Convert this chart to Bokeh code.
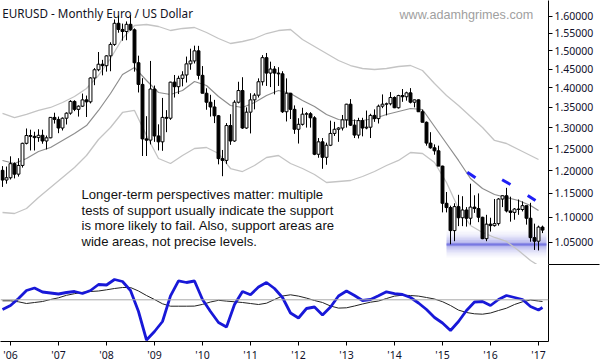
import numpy as np
from bokeh.plotting import figure
from bokeh.layouts import column
from bokeh.models import (ColumnDataSource, FixedTicker, PrintfTickFormatter,
                          LinearAxis, Label, Range1d, Span)
from bokeh.embed import file_html
from bokeh.resources import INLINE

# ---------------- data ----------------
# month index: 0 = Jan 2006 ; -2 = Nov 2005 ; 133 = Feb 2017
months = list(range(-2, 134))

opens = [
    1.2005, 1.1790,
    1.1840, 1.2155, 1.1920, 1.2115, 1.2625, 1.2810, 1.2790, 1.2760, 1.2815, 1.2680, 1.2755, 1.3250,
    1.3200, 1.2990, 1.3230, 1.3355, 1.3650, 1.3450, 1.3530, 1.3690, 1.3640, 1.4260, 1.4480, 1.4630,
    1.4590, 1.4860, 1.5180, 1.5790, 1.5610, 1.5550, 1.5760, 1.5600, 1.4670, 1.4090, 1.2730, 1.2700,
    1.3970, 1.2800, 1.2660, 1.3250, 1.3230, 1.4150, 1.4030, 1.4250, 1.4340, 1.4640, 1.4720, 1.5000,
    1.4330, 1.3860, 1.3630, 1.3510, 1.3290, 1.2270, 1.2230, 1.3050, 1.2680, 1.3630, 1.3930, 1.2990,
    1.3380, 1.3690, 1.3810, 1.4160, 1.4810, 1.4390, 1.4500, 1.4390, 1.4370, 1.3390, 1.3860, 1.3450,
    1.2960, 1.3080, 1.3330, 1.3340, 1.3240, 1.2370, 1.2660, 1.2300, 1.2580, 1.2860, 1.2960, 1.2990,
    1.3190, 1.3580, 1.3060, 1.2820, 1.3170, 1.2990, 1.3010, 1.3300, 1.3220, 1.3530, 1.3580, 1.3590,
    1.3750, 1.3490, 1.3800, 1.3770, 1.3870, 1.3630, 1.3690, 1.3390, 1.3130, 1.2630, 1.2520, 1.2450,
    1.2100, 1.1290, 1.1200, 1.0730, 1.1220, 1.0990, 1.1150, 1.0980, 1.1210, 1.1180, 1.1000, 1.0570,
    1.0860, 1.0830, 1.0870, 1.1380, 1.1450, 1.1130, 1.1100, 1.1170, 1.1160, 1.1240, 1.0980, 1.0590,
    1.0520, 1.0800]

highs = [
    1.2100, 1.2090,
    1.2323, 1.2185, 1.2280, 1.2639, 1.2979, 1.2950, 1.2900, 1.2960, 1.2950, 1.2810, 1.3253, 1.3366,
    1.3270, 1.3250, 1.3375, 1.3682, 1.3680, 1.3550, 1.3852, 1.3800, 1.4280, 1.4525, 1.4967, 1.4750,
    1.4880, 1.5240, 1.5905, 1.6020, 1.5780, 1.5845, 1.6038, 1.5640, 1.4865, 1.4255, 1.3280, 1.4720,
    1.4060, 1.3080, 1.3740, 1.3430, 1.4160, 1.4340, 1.4320, 1.4440, 1.4840, 1.5060, 1.5145, 1.5140,
    1.4580, 1.3990, 1.3820, 1.3690, 1.3310, 1.2470, 1.3110, 1.3330, 1.3680, 1.4160, 1.4280, 1.3500,
    1.3860, 1.3860, 1.4250, 1.4880, 1.4940, 1.4700, 1.4580, 1.4550, 1.4440, 1.4250, 1.3870, 1.3550,
    1.3230, 1.3490, 1.3380, 1.3380, 1.3280, 1.2750, 1.2750, 1.2640, 1.3170, 1.3140, 1.3010, 1.3310,
    1.3590, 1.3710, 1.3200, 1.3240, 1.3240, 1.3420, 1.3340, 1.3450, 1.3570, 1.3830, 1.3620, 1.3890,
    1.3780, 1.3820, 1.3970, 1.3900, 1.3993, 1.3700, 1.3700, 1.3440, 1.3150, 1.2890, 1.2600, 1.2570,
    1.2110, 1.1530, 1.1240, 1.1290, 1.1470, 1.1440, 1.1210, 1.1710, 1.1460, 1.1500, 1.1010, 1.1050,
    1.0990, 1.1380, 1.1400, 1.1460, 1.1620, 1.1430, 1.1190, 1.1370, 1.1330, 1.1240, 1.1300, 1.0870,
    1.0830, 1.0830]

lows = [
    1.1640, 1.1710,
    1.1802, 1.1826, 1.1866, 1.2067, 1.2600, 1.2458, 1.2457, 1.2660, 1.2615, 1.2483, 1.2745, 1.3099,
    1.2866, 1.2930, 1.3076, 1.3316, 1.3405, 1.3270, 1.3510, 1.3260, 1.3600, 1.4070, 1.4440, 1.4330,
    1.4430, 1.4440, 1.5140, 1.5515, 1.5285, 1.5300, 1.5570, 1.4430, 1.3880, 1.2330, 1.2330, 1.2600,
    1.2660, 1.2460, 1.2450, 1.2890, 1.3190, 1.3750, 1.3840, 1.4040, 1.4140, 1.4480, 1.4650, 1.4220,
    1.3860, 1.3440, 1.3270, 1.3110, 1.2140, 1.1875, 1.2150, 1.2590, 1.2660, 1.3600, 1.2970, 1.2970,
    1.2860, 1.3450, 1.3750, 1.4060, 1.4050, 1.4020, 1.3830, 1.4050, 1.3360, 1.3150, 1.3210, 1.2850,
    1.2620, 1.3050, 1.3000, 1.3000, 1.2350, 1.2290, 1.2040, 1.2130, 1.2560, 1.2800, 1.2660, 1.2930,
    1.3000, 1.3040, 1.2750, 1.2740, 1.2790, 1.2960, 1.2750, 1.3140, 1.3100, 1.3480, 1.3300, 1.3550,
    1.3480, 1.3470, 1.3640, 1.3670, 1.3600, 1.3500, 1.3390, 1.3130, 1.2570, 1.2500, 1.2360, 1.2100,
    1.1100, 1.1100, 1.0460, 1.0520, 1.0820, 1.0820, 1.0810, 1.0850, 1.1090, 1.0900, 1.0560, 1.0520,
    1.0710, 1.0810, 1.0830, 1.1210, 1.1100, 1.0910, 1.0950, 1.1050, 1.1120, 1.0850, 1.0510, 1.0350,
    1.0340, 1.0680]

closes = [
    1.1790, 1.1840,
    1.2155, 1.1920, 1.2115, 1.2625, 1.2810, 1.2790, 1.2760, 1.2815, 1.2680, 1.2755, 1.3250, 1.3200,
    1.2990, 1.3230, 1.3355, 1.3650, 1.3450, 1.3530, 1.3690, 1.3640, 1.4260, 1.4480, 1.4630, 1.4590,
    1.4860, 1.5180, 1.5790, 1.5610, 1.5550, 1.5760, 1.5600, 1.4670, 1.4090, 1.2730, 1.2700, 1.3970,
    1.2800, 1.2660, 1.3250, 1.3230, 1.4150, 1.4030, 1.4250, 1.4340, 1.4640, 1.4720, 1.5000, 1.4330,
    1.3860, 1.3630, 1.3510, 1.3290, 1.2270, 1.2230, 1.3050, 1.2680, 1.3630, 1.3930, 1.2990, 1.3380,
    1.3690, 1.3810, 1.4160, 1.4810, 1.4390, 1.4500, 1.4390, 1.4370, 1.3390, 1.3860, 1.3450, 1.2960,
    1.3080, 1.3330, 1.3340, 1.3240, 1.2370, 1.2660, 1.2300, 1.2580, 1.2860, 1.2960, 1.2990, 1.3190,
    1.3580, 1.3060, 1.2820, 1.3170, 1.2990, 1.3010, 1.3300, 1.3220, 1.3530, 1.3580, 1.3590, 1.3750,
    1.3490, 1.3800, 1.3770, 1.3870, 1.3630, 1.3690, 1.3390, 1.3130, 1.2630, 1.2520, 1.2450, 1.2100,
    1.1290, 1.1200, 1.0730, 1.1220, 1.0990, 1.1150, 1.0980, 1.1210, 1.1180, 1.1000, 1.0570, 1.0860,
    1.0830, 1.0870, 1.1380, 1.1450, 1.1130, 1.1100, 1.1170, 1.1160, 1.1240, 1.0980, 1.0590, 1.0520,
    1.0800, 1.0740]

# channel lines (every 3 months)
band_months = list(range(-2, 131, 3)) + [132]
band_upper = [1.3347, 1.3247, 1.3322, 1.3422, 1.3497, 1.3623, 1.3776, 1.3983, 1.4326, 1.4787,
              1.5348, 1.5725, 1.5754, 1.5696, 1.5579, 1.5638, 1.5667, 1.5521, 1.5348, 1.5206,
              1.5263, 1.5348, 1.5492, 1.5579, 1.5608, 1.5320, 1.5122, 1.4926, 1.4732, 1.4595,
              1.4514, 1.4487, 1.4514, 1.4568, 1.4595, 1.4460, 1.4114, 1.3802, 1.3547, 1.3272,
              1.3003, 1.2692, 1.2621, 1.2481, 1.2342, 1.2250]
band_mid = [1.2228, 1.2159, 1.2273, 1.2434, 1.2527, 1.2692, 1.2858, 1.3051, 1.3422, 1.3853,
            1.4353, 1.4541, 1.4193, 1.3879, 1.3828, 1.3931, 1.4167, 1.4062, 1.3776, 1.3547,
            1.3497, 1.3623, 1.3802, 1.3931, 1.3853, 1.3674, 1.3522, 1.3322, 1.3198, 1.3174,
            1.3174, 1.3223, 1.3322, 1.3397, 1.3472, 1.3447, 1.3027, 1.2621, 1.2228, 1.1824,
            1.1606, 1.1477, 1.1413, 1.1349, 1.1244, 1.1140]
band_lower = [1.1098, 1.1077, 1.1181, 1.1413, 1.1627, 1.1846, 1.2069, 1.2342, 1.2715, 1.3003,
              1.3372, 1.3422, 1.2810, 1.2273, 1.2159, 1.2342, 1.2504, 1.2527, 1.2388, 1.2046,
              1.1979, 1.2114, 1.2296, 1.2342, 1.2159, 1.2046, 1.1912, 1.1736, 1.1758, 1.1780,
              1.1868, 1.1979, 1.2114, 1.2228, 1.2411, 1.2388, 1.2182, 1.1736, 1.1181, 1.0833,
              1.0693, 1.0593, 1.0515, 1.0339, 1.0148, 1.0054]

# oscillator (lower panel), read every 2 months
osc_months = list(range(-2, 133, 2)) + [133]
osc_fast = [-0.097, -0.057, 0.013, 0.093, 0.118, 0.078, 0.068, 0.058, 0.073, 0.083,
            0.063, 0.093, 0.153, 0.148, 0.203, 0.183, 0.093, -0.117, -0.402, -0.317,
            -0.217, 0.040, 0.190, 0.173, 0.188, 0.003, -0.117, -0.227, -0.272, -0.047,
            0.083, 0.050, 0.128, 0.173, 0.113, 0.023, -0.132, -0.182, -0.087, -0.072,
            -0.152, -0.072, 0.038, 0.088, 0.043, -0.007, 0.003, 0.040, 0.080, 0.061,
            0.053, 0.023, -0.032, -0.097, -0.177, -0.232, -0.307, -0.217, -0.107, -0.022,
            -0.017, -0.057, 0.003, 0.043, 0.023, 0.003, -0.067, -0.102, -0.077]
osc_slow = [-0.010, -0.010, -0.020, -0.037, -0.027, -0.017, 0.003, 0.020, 0.045, 0.061,
            0.075, 0.083, 0.088, 0.100, 0.113, 0.123, 0.123, 0.088, 0.043, 0.003,
            -0.040, -0.064, -0.064, -0.064, -0.063, -0.046, -0.022, -0.005, -0.013, -0.020,
            -0.027, -0.037, -0.047, -0.034, 0.003, 0.038, 0.050, 0.037, 0.017, -0.007,
            -0.027, -0.062, -0.083, -0.080, -0.062, -0.042, -0.024, -0.012, 0.013, 0.037,
            0.046, 0.043, 0.037, 0.023, 0.008, -0.019, -0.057, -0.103, -0.127, -0.140,
            -0.144, -0.132, -0.107, -0.084, -0.047, -0.020, -0.002, -0.012, -0.017]

# support zone and lower-high markers
zone_months = [109, 134]
zone_low, zone_level, zone_high = 1.0205, 1.0455, 1.0730
marker_x0 = [114.2, 122.9, 129.3]
marker_y0 = [1.1964, 1.1795, 1.1455]
marker_x1 = [116.25, 125.0, 131.25]
marker_y1 = [1.1839, 1.1692, 1.1349]

price_ticks = [1.05, 1.10, 1.15, 1.20, 1.25, 1.30, 1.35, 1.40, 1.45, 1.50, 1.55, 1.60]
year_ticks = [0, 12, 24, 36, 48, 60, 72, 84, 96, 108, 120, 132]
year_labels = ["'06", "'07", "'08", "'09", "'10", "'11", "'12", "'13", "'14", "'15", "'16", "'17"]

title_text = "EURUSD - Monthly  Euro / US Dollar"
site_text = "www.adamhgrimes.com"
note_lines = ["Longer-term perspectives matter: multiple",
              "tests of support usually indicate the support",
              "is more likely to fail. Also, support areas are",
              "wide areas, not precise levels."]

assert len(opens) == len(highs) == len(lows) == len(closes) == len(months)
assert len(band_upper) == len(band_mid) == len(band_lower) == len(band_months)
assert len(osc_fast) == len(osc_slow) == len(osc_months)

# ---------------- price panel ----------------
FRAME_W = 548
RIGHT_W = 52
XR = Range1d(-2.5, 134.5)
OSC_RANGE = (-0.417, 0.353)

p = figure(frame_width=FRAME_W, frame_height=264, x_range=XR,
           y_range=Range1d(1.0073, 1.6475), y_axis_type="log",
           y_axis_location="right", x_axis_location=None,
           output_backend="svg", toolbar_location=None,
           min_border_left=0, min_border_right=RIGHT_W,
           min_border_top=0, min_border_bottom=0)
p.outline_line_color = None
p.grid.grid_line_color = None
p.background_fill_color = "white"
p.border_fill_color = "white"

ya = p.yaxis[0]
ya.ticker = FixedTicker(ticks=price_ticks)
ya.formatter = PrintfTickFormatter(format="%.5f")
ya.axis_line_color = "black"
ya.major_tick_line_color = "black"
ya.major_tick_in = 0
ya.major_tick_out = 4
ya.minor_tick_line_color = None
ya.major_label_standoff = 2
ya.major_label_text_font = "Noto Sans"
ya.major_label_text_font_size = "10.5px"
ya.major_label_text_color = "#10102a"

# support zone gradient
N = 9
zl = []
for lo_edge, hi_edge in ((zone_level, zone_high), (zone_level, zone_low)):
    edges = np.exp(np.linspace(np.log(lo_edge), np.log(hi_edge), N + 1))
    for i in range(N):
        zl.append((edges[i], edges[i + 1], 0.03 + 0.45 * (1 - (i + 0.5) / N) ** 1.8))
zsrc = ColumnDataSource(dict(
    left=[zone_months[0]] * len(zl), right=[zone_months[1]] * len(zl),
    bottom=[min(a, b) for a, b, _ in zl], top=[max(a, b) for a, b, _ in zl],
    alpha=[c for _, _, c in zl]))
p.quad(left="left", right="right", bottom="bottom", top="top", source=zsrc,
       fill_color="#3434d0", fill_alpha="alpha", line_color=None)
p.segment(x0=[zone_months[0]], y0=[zone_level], x1=[zone_months[1]], y1=[zone_level],
          line_color="#4848d8", line_width=2, line_alpha=0.55)

# channel
p.line(band_months, band_upper, line_color="#c4c4c4", line_width=1.3)
p.line(band_months, band_lower, line_color="#c4c4c4", line_width=1.3)
p.line(band_months, band_mid, line_color="#8e8e8e", line_width=1.2)

# candles
src = ColumnDataSource(dict(
    m=months, o=opens, h=highs, l=lows, c=closes,
    top=[max(a, b) for a, b in zip(opens, closes)],
    bottom=[min(a, b) for a, b in zip(opens, closes)],
    fill=["white" if c >= o else "black" for o, c in zip(opens, closes)]))
p.segment(x0="m", y0="l", x1="m", y1="h", source=src, line_color="black", line_width=1)
p.vbar(x="m", width=0.72, top="top", bottom="bottom", source=src,
       fill_color="fill", line_color="black", line_width=1)

# lower-high markers
p.segment(x0=marker_x0, y0=marker_y0, x1=marker_x1, y1=marker_y1,
          line_color="#1f1ff5", line_width=3)

# texts
p.add_layout(Label(x=-2.08, y=1.6090, text=title_text, text_font="Noto Sans",
                   text_font_size="11.7px", text_color="#111122",
                   text_baseline="alphabetic"))
p.add_layout(Label(x=97.25, y=1.6036, text=site_text, text_font="Liberation Sans",
                   text_font_size="12.6px", text_color="#a0a0a0",
                   text_baseline="alphabetic"))
note_y = [1.1477, 1.1146, 1.0824, 1.0514]
for line_text, ly in zip(note_lines, note_y):
    p.add_layout(Label(x=17.75, y=ly, text=line_text,
                       text_font="Liberation Sans", text_font_size="13.1px",
                       text_color="#111111", text_baseline="middle"))

# ---------------- oscillator panel ----------------
q = figure(frame_width=FRAME_W, frame_height=77, x_range=XR,
           y_range=Range1d(*OSC_RANGE), y_axis_location=None,
           output_backend="svg", toolbar_location=None,
           min_border_left=0, min_border_right=RIGHT_W,
           min_border_top=0, min_border_bottom=19)
q.outline_line_color = None
q.grid.grid_line_color = None
q.background_fill_color = "white"
q.border_fill_color = "white"

# right axis of the lower panel; its single long tick at the top forms the
# separator line under the price scale
q.add_layout(LinearAxis(ticker=FixedTicker(ticks=[OSC_RANGE[1] - 0.0005]),
                        axis_line_color="black",
                        major_tick_line_color="black", major_tick_in=0,
                        major_tick_out=RIGHT_W - 1, major_label_standoff=0,
                        minor_tick_line_color=None,
                        major_label_text_font_size="0px",
                        major_label_text_color=None), "right")

xa = q.xaxis[0]
xa.ticker = FixedTicker(ticks=year_ticks)
xa.major_label_overrides = {t: lab for t, lab in zip(year_ticks, year_labels)}
xa.axis_line_color = "black"
xa.major_tick_line_color = "black"
xa.major_tick_in = 0
xa.major_tick_out = 4
xa.minor_tick_line_color = None
xa.major_label_standoff = 2
xa.major_label_text_font = "Noto Sans"
xa.major_label_text_font_size = "10.5px"
xa.major_label_text_color = "#10102a"

q.add_layout(Span(location=0, dimension="width", line_color="#a8a8a8", line_width=1))
q.line(osc_months, osc_slow, line_color="#222222", line_width=1)
q.line(osc_months, osc_fast, line_color="#1818d8", line_width=2.8)

layout = column(p, q, spacing=0)
open("out.html", "w").write(file_html(layout, INLINE))
